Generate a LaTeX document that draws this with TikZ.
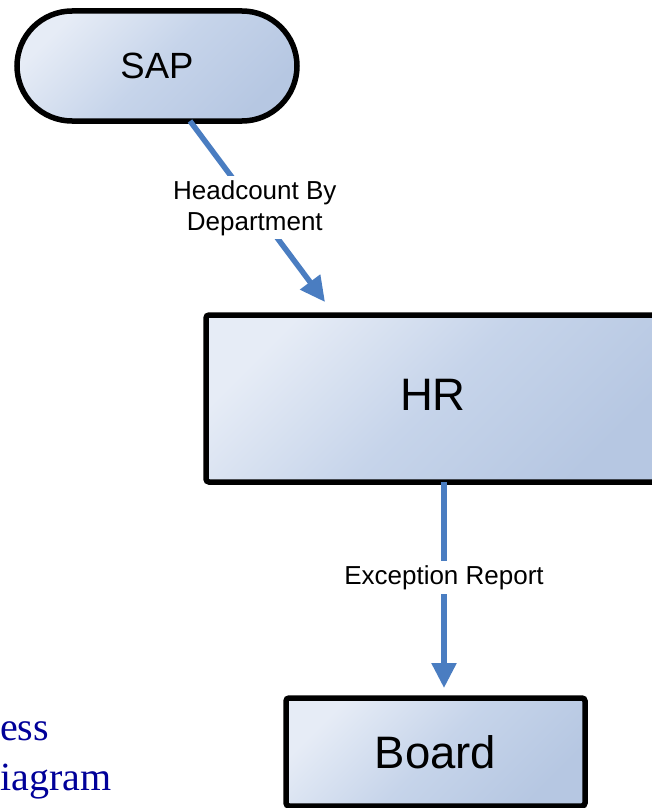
\documentclass[tikz,border=0pt]{standalone}
\usepackage{fontspec}
\setmainfont{Liberation Sans}
\newfontfamily\blueserif{Liberation Serif}
\usetikzlibrary{arrows.meta,calc}
\definecolor{boxlight}{RGB}{230,236,246}
\definecolor{boxmid}{RGB}{198,212,234}
\definecolor{boxdark}{RGB}{182,199,226}
\definecolor{flowblue}{RGB}{74,125,193}
\definecolor{titleblue}{RGB}{0,0,153}
\begin{document}
\begin{tikzpicture}[x=1pt,y=-1pt,
  procbox/.style={draw=black, line width=5.5pt, top color=boxlight, bottom color=boxdark, middle color=boxmid, shading angle=45, inner sep=0pt, outer sep=0pt, rounded corners=3pt},
  flow/.style={draw=flowblue, line width=5.5pt, -{Triangle[width=24pt,length=25pt]}},
  flowlabel/.style={fill=white, text=black, font=\fontsize{26}{31}\selectfont, align=center, inner sep=4pt},
  titletext/.style={anchor=base west, inner sep=0pt, text=titleblue, font=\blueserif\fontsize{40}{44}\selectfont}
]
\useasboundingbox (0,0) rectangle (652,808);
\clip (0,0) rectangle (652,808);
\node[procbox, rounded corners=55pt, minimum width=280pt, minimum height=110pt, font=\fontsize{36.5}{40}\selectfont] (sap) at (157,66) {SAP};
\node[procbox, minimum width=454pt, minimum height=167pt, text depth=7pt, font=\fontsize{45.5}{50}\selectfont] (hr) at (433,398.5) {HR};
\node[procbox, minimum width=299pt, minimum height=108pt, font=\fontsize{45.5}{50}\selectfont] (board) at (435.5,752) {Board};
\draw[flow] ($(sap.south)+(33,0)$) -- node[flowlabel, pos=0.48] (l1) {Headcount By\\Department} ($(hr.north)+(-108,-13)$);
\draw[flow] ($(hr.south)+(11,0)$) -- node[flowlabel, pos=0.464] (l2) {Exception Report} ($(board.north)+(8.5,-10)$);
\node[titletext] (t1) at (0,740) {ess};
\node[titletext] (t2) at (0,790) {iagram};
\end{tikzpicture}
\end{document}
